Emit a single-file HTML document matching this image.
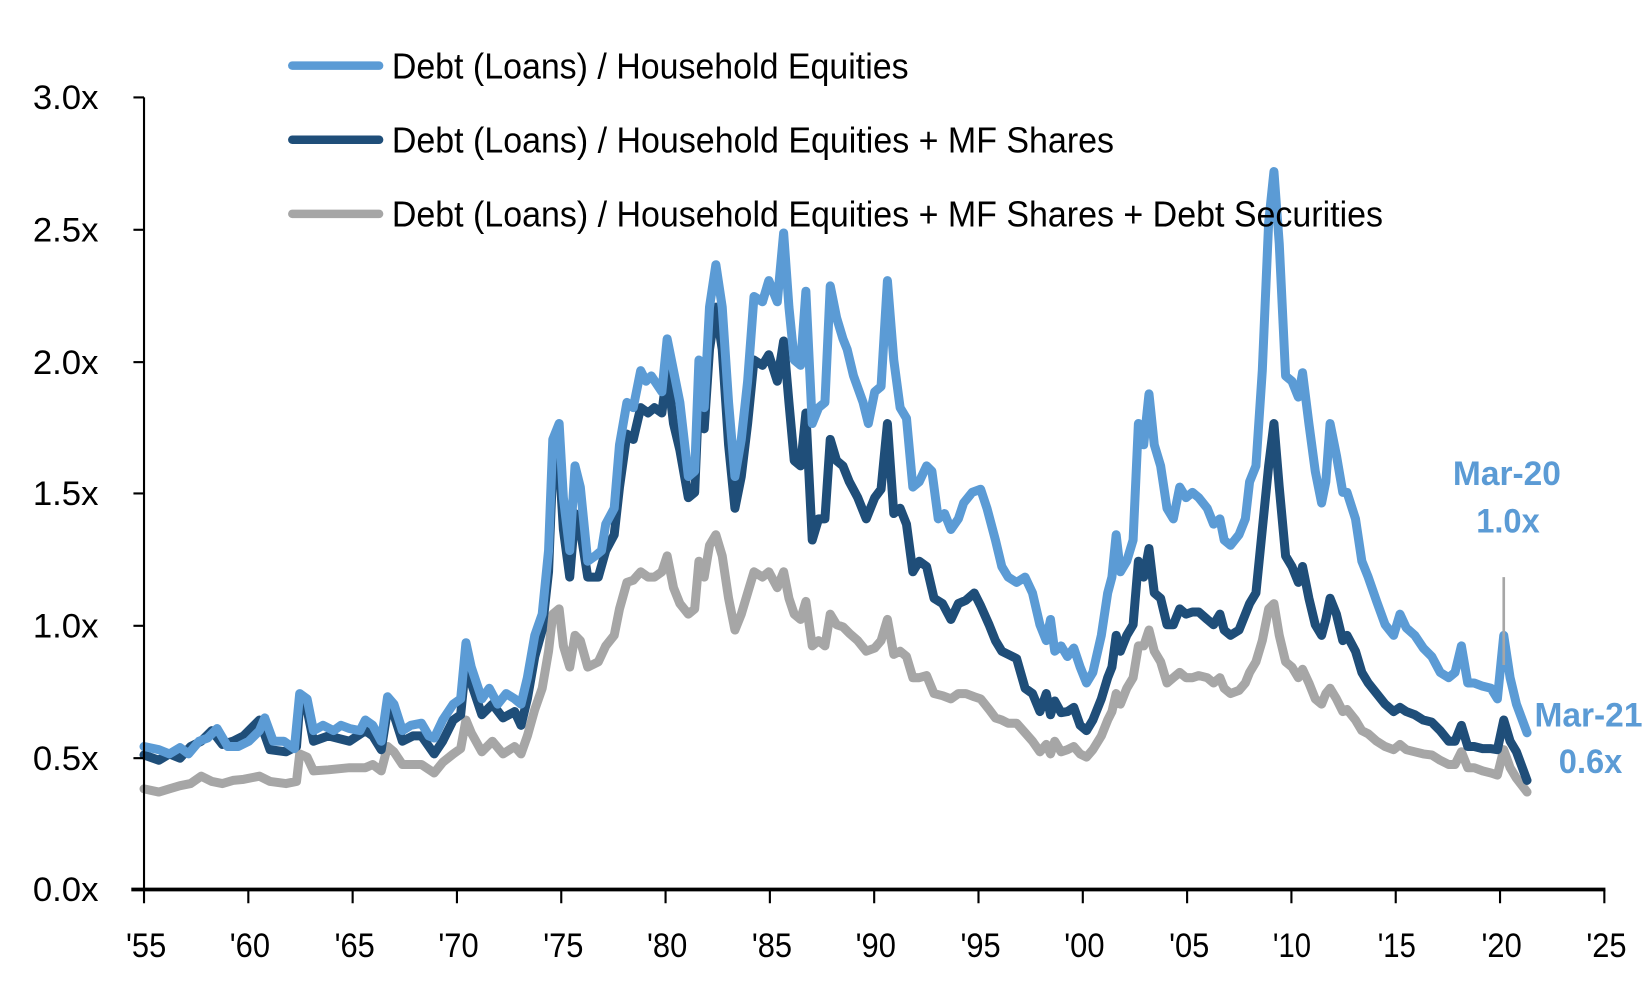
<!DOCTYPE html>
<html><head><meta charset="utf-8"><style>
html,body{margin:0;padding:0;background:#fff;}
svg{display:block;}
text{font-family:"Liberation Sans Narrow","Liberation Sans",sans-serif;}
</style></head><body>
<svg width="1652" height="989" viewBox="0 0 1560 934" preserveAspectRatio="none" xmlns="http://www.w3.org/2000/svg">
<rect width="1560" height="934" fill="#fff"/>
<g fill="none" stroke-linejoin="round" stroke-linecap="round" stroke-width="8.5">
<polyline stroke="#a6a6a6" points="136,745 150,748 160,745 170,742 180,740 190,733 200,738 210,740 220,737 230,736 245,733 255,738 270,740 280,738 283,712 290,715 296,728 310,727 330,725 345,725 352,722 360,728 366,705 372,710 380,722 390,722 398,722 410,730 418,720 428,712 435,707 440,680 445,692 455,710 465,700 475,712 486,705 492,712 498,695 505,670 512,650 518,615 522,580 528,575 532,610 538,630 543,600 548,605 555,630 565,625 572,610 580,600 585,575 592,550 598,548 605,540 612,545 618,545 625,540 630,525 636,555 642,570 650,580 656,575 660,530 665,545 670,515 676,505 682,525 688,565 694,595 700,580 706,560 712,540 720,545 726,540 734,555 740,540 745,565 750,580 756,585 761,568 767,610 773,605 779,610 784,580 790,590 796,592 802,598 810,605 818,615 826,612 832,605 838,585 844,618 850,615 856,620 862,640 868,640 875,638 882,655 890,657 898,660 905,655 912,655 920,658 926,660 934,670 940,678 946,680 952,683 960,683 968,692 975,700 982,710 988,703 992,712 996,700 1002,710 1008,708 1014,705 1020,712 1026,715 1032,708 1040,695 1046,680 1050,672 1054,655 1058,665 1064,650 1070,640 1075,610 1080,610 1085,595 1090,615 1096,625 1102,645 1108,640 1114,635 1120,640 1126,640 1132,638 1140,640 1146,645 1152,640 1156,650 1162,655 1170,652 1176,645 1180,635 1186,625 1192,605 1198,575 1203,570 1208,600 1214,625 1220,630 1226,640 1230,632 1236,645 1242,660 1248,665 1252,655 1256,650 1262,660 1268,672 1272,670 1280,680 1286,690 1292,693 1300,700 1308,705 1316,708 1322,703 1328,708 1336,710 1344,712 1352,713 1360,718 1368,722 1374,722 1380,710 1386,725 1392,725 1400,728 1408,730 1414,732 1420,708 1426,725 1432,735 1442,748"/>
<polyline stroke="#1f4e79" points="136,713 150,718 160,712 170,716 180,705 190,700 200,690 210,703 220,700 230,695 245,680 255,708 270,710 280,705 283,665 290,670 296,700 310,695 330,700 345,690 352,695 360,708 366,670 372,675 380,700 390,695 398,695 410,712 418,700 428,680 435,675 440,625 445,645 455,675 465,665 475,678 486,672 492,685 498,660 505,620 512,595 518,540 522,440 528,435 532,500 538,545 543,485 548,500 555,545 565,545 572,520 580,505 585,460 592,410 598,415 605,385 612,390 618,385 625,390 630,350 636,400 642,425 650,470 656,465 660,370 665,405 670,330 676,290 682,330 688,420 694,480 700,450 706,400 712,340 720,345 726,335 734,360 740,322 745,380 750,435 756,440 761,390 767,510 773,490 779,490 784,415 790,435 796,440 802,455 810,470 818,490 826,470 832,462 838,400 844,485 850,480 856,495 862,540 868,530 875,535 882,565 890,570 898,585 905,570 912,567 920,560 926,572 934,590 940,605 946,615 952,618 960,622 968,650 975,655 982,672 988,655 992,675 996,662 1002,673 1008,672 1014,668 1020,685 1026,690 1032,680 1040,660 1046,640 1050,630 1054,600 1058,615 1064,600 1070,590 1075,530 1080,545 1085,518 1090,560 1096,565 1102,590 1108,590 1114,575 1120,580 1126,578 1132,578 1140,585 1146,590 1152,580 1156,595 1162,600 1170,595 1176,580 1180,570 1186,560 1192,500 1198,440 1203,400 1208,460 1214,525 1220,535 1226,550 1230,535 1236,565 1242,590 1248,600 1252,585 1256,565 1262,580 1268,605 1272,600 1280,615 1286,635 1292,645 1300,655 1308,665 1316,672 1322,668 1328,672 1336,675 1344,680 1352,682 1360,690 1368,700 1374,700 1380,685 1386,705 1392,705 1400,707 1408,707 1414,708 1420,680 1426,700 1432,710 1442,737"/>
<polyline stroke="#5b9bd5" points="136,705 150,708 160,712 170,706 178,712 188,700 196,697 205,688 215,705 225,705 235,700 245,690 250,678 258,700 268,700 278,707 283,655 290,660 296,690 305,685 315,690 322,685 330,688 340,690 345,680 352,685 360,700 366,658 372,665 380,690 388,685 398,683 405,695 410,697 418,680 428,665 435,660 440,607 445,630 455,660 462,650 470,665 478,655 486,660 492,665 498,640 505,600 512,580 518,520 522,415 528,400 532,470 538,520 543,440 548,460 555,530 562,525 568,520 572,495 580,480 585,420 592,380 598,385 605,350 610,360 615,355 625,370 630,320 636,350 642,380 650,450 656,445 660,340 665,385 670,290 676,250 682,290 688,380 694,450 700,415 706,360 712,280 720,285 726,265 734,285 740,220 745,290 750,340 756,345 761,275 767,400 773,385 779,380 784,270 790,300 796,320 800,330 806,355 815,380 820,400 826,370 832,365 838,265 844,340 850,385 856,395 862,460 868,455 875,440 880,445 886,490 892,485 898,500 905,490 910,475 918,465 926,462 932,480 940,510 946,535 952,545 960,550 968,545 975,560 982,590 988,605 992,585 996,615 1002,610 1008,620 1014,612 1020,630 1026,645 1032,635 1040,600 1046,560 1050,545 1054,505 1058,540 1064,530 1070,510 1075,400 1080,420 1085,372 1090,420 1096,440 1102,480 1108,490 1114,460 1120,470 1126,465 1132,470 1140,480 1146,495 1152,490 1156,510 1162,515 1170,505 1176,490 1180,455 1186,440 1192,350 1198,210 1203,162 1208,230 1214,355 1220,360 1226,375 1230,352 1236,400 1242,445 1248,475 1252,455 1256,400 1262,430 1268,465 1272,465 1280,490 1286,530 1292,545 1300,568 1308,590 1316,600 1322,580 1328,593 1336,600 1344,612 1352,620 1360,635 1368,640 1374,635 1380,610 1386,645 1392,645 1400,648 1408,650 1414,660 1420,600 1426,640 1432,665 1442,692"/>
</g>
<line x1="1420" y1="545" x2="1420" y2="628" stroke="#a6a6a6" stroke-width="2.5"/>
<g stroke="#000" stroke-width="2">
<line x1="136" y1="92" x2="136" y2="841"/>
<line x1="126" y1="92" x2="136" y2="92"/><line x1="126" y1="217" x2="136" y2="217"/><line x1="126" y1="342" x2="136" y2="342"/><line x1="126" y1="466" x2="136" y2="466"/><line x1="126" y1="591" x2="136" y2="591"/><line x1="126" y1="716" x2="136" y2="716"/>
<line x1="124" y1="840" x2="1516" y2="840" stroke-width="3.5"/>
<path d="M136 840v13M234.5 840v13M333 840v13M431.5 840v13M530 840v13M628.5 840v13M727 840v13M825.5 840v13M924 840v13M1022.5 840v13M1121 840v13M1219.5 840v13M1318 840v13M1416.5 840v13M1515 840v13"/>
</g>
<g font-size="32" fill="#000" text-anchor="end">
<text x="93" y="103" textLength="62" lengthAdjust="spacingAndGlyphs">3.0x</text>
<text x="93" y="228" textLength="62" lengthAdjust="spacingAndGlyphs">2.5x</text>
<text x="93" y="353" textLength="62" lengthAdjust="spacingAndGlyphs">2.0x</text>
<text x="93" y="477" textLength="62" lengthAdjust="spacingAndGlyphs">1.5x</text>
<text x="93" y="602" textLength="62" lengthAdjust="spacingAndGlyphs">1.0x</text>
<text x="93" y="727" textLength="62" lengthAdjust="spacingAndGlyphs">0.5x</text>
<text x="93" y="851" textLength="62" lengthAdjust="spacingAndGlyphs">0.0x</text>
</g>
<g font-size="32" fill="#000">
<text x="119" y="904" textLength="38" lengthAdjust="spacingAndGlyphs">'55</text>
<text x="217" y="904" textLength="38" lengthAdjust="spacingAndGlyphs">'60</text>
<text x="316" y="904" textLength="38" lengthAdjust="spacingAndGlyphs">'65</text>
<text x="414" y="904" textLength="38" lengthAdjust="spacingAndGlyphs">'70</text>
<text x="513" y="904" textLength="38" lengthAdjust="spacingAndGlyphs">'75</text>
<text x="611" y="904" textLength="38" lengthAdjust="spacingAndGlyphs">'80</text>
<text x="710" y="904" textLength="38" lengthAdjust="spacingAndGlyphs">'85</text>
<text x="808" y="904" textLength="38" lengthAdjust="spacingAndGlyphs">'90</text>
<text x="907" y="904" textLength="38" lengthAdjust="spacingAndGlyphs">'95</text>
<text x="1005" y="904" textLength="38" lengthAdjust="spacingAndGlyphs">'00</text>
<text x="1104" y="904" textLength="38" lengthAdjust="spacingAndGlyphs">'05</text>
<text x="1202" y="904" textLength="36" lengthAdjust="spacingAndGlyphs">'10</text>
<text x="1301" y="904" textLength="36" lengthAdjust="spacingAndGlyphs">'15</text>
<text x="1399" y="904" textLength="38" lengthAdjust="spacingAndGlyphs">'20</text>
<text x="1498" y="904" textLength="38" lengthAdjust="spacingAndGlyphs">'25</text>
</g>
<g stroke-width="8" stroke-linecap="round">
<line x1="276" y1="62" x2="358" y2="62" stroke="#5b9bd5"/>
<line x1="276" y1="132" x2="358" y2="132" stroke="#1f4e79"/>
<line x1="276" y1="202" x2="358" y2="202" stroke="#a6a6a6"/>
</g>
<g font-size="34" fill="#000">
<text x="370" y="74" textLength="488" lengthAdjust="spacingAndGlyphs">Debt (Loans) / Household Equities</text>
<text x="370" y="144" textLength="682" lengthAdjust="spacingAndGlyphs">Debt (Loans) / Household Equities + MF Shares</text>
<text x="370" y="214" textLength="936" lengthAdjust="spacingAndGlyphs">Debt (Loans) / Household Equities + MF Shares + Debt Securities</text>
</g>
<g font-size="32" font-weight="bold" fill="#5b9bd5" text-anchor="middle">
<text x="1423" y="458" textLength="102" lengthAdjust="spacingAndGlyphs">Mar-20</text>
<text x="1424" y="503" textLength="60" lengthAdjust="spacingAndGlyphs">1.0x</text>
<text x="1500" y="686" textLength="102" lengthAdjust="spacingAndGlyphs">Mar-21</text>
<text x="1502" y="730" textLength="60" lengthAdjust="spacingAndGlyphs">0.6x</text>
</g>
</svg>
</body></html>
